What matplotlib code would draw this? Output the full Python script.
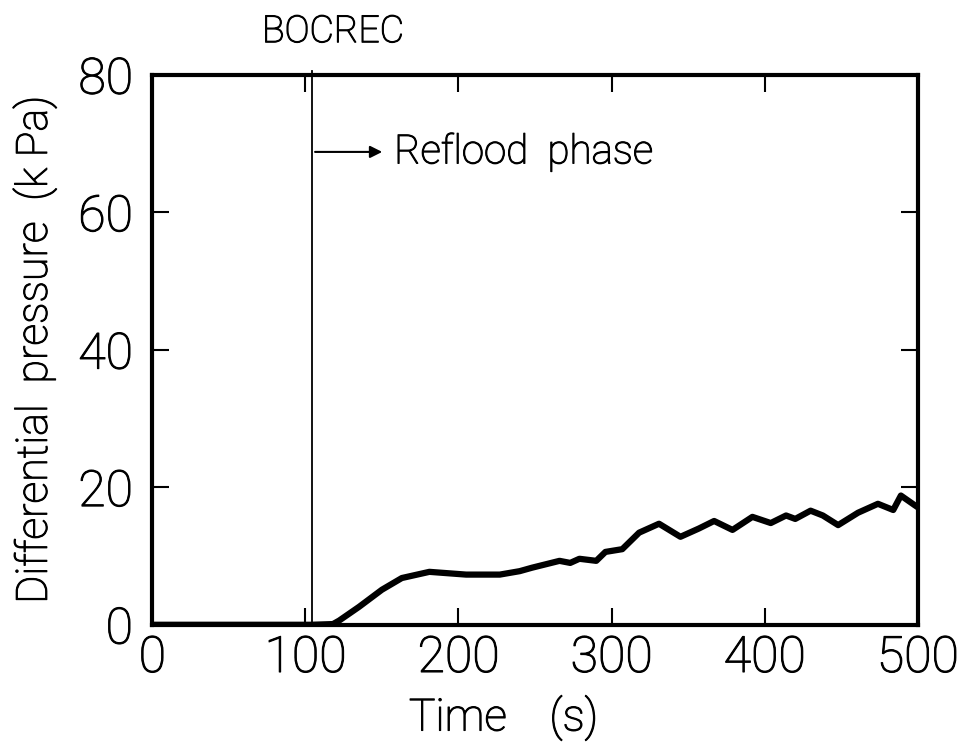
import matplotlib
matplotlib.use('Agg')
import matplotlib.pyplot as plt
import matplotlib.patheffects as pe

# time (s) and differential pressure (kPa)
t = [0, 50, 104, 118, 122, 135, 150, 163, 181, 205, 227, 240, 248, 266, 273, 279,
     290, 296, 307, 318, 331, 345, 357, 367, 379, 392, 404, 414, 420, 430, 438,
     448, 461, 474, 484, 489, 498, 500]
dp = [0, 0, 0, 0.1, 0.6, 2.6, 5.1, 6.8, 7.7, 7.3, 7.3, 7.8, 8.3, 9.3, 9.0, 9.6,
      9.3, 10.6, 11.0, 13.4, 14.7, 12.8, 14.0, 15.1, 13.8, 15.7, 14.8, 15.9, 15.4,
      16.6, 15.9, 14.5, 16.3, 17.6, 16.7, 18.8, 17.4, 17.1]

bocrec = 104.5
xticks = [0, 100, 200, 300, 400, 500]
yticks = [0, 20, 40, 60, 80]

plt.rcParams['font.family'] = ['Roboto', 'DejaVu Sans']
plt.rcParams['font.weight'] = 'light'
plt.rcParams['axes.labelweight'] = 'light'
fig = plt.figure(figsize=(9.64, 7.42), dpi=100)
ax = fig.add_axes([0.158, 0.158, 0.794, 0.741])

ax.plot(t, dp, color='black', lw=4.5, solid_capstyle='round', solid_joinstyle='round')
ax.plot([bocrec, bocrec], [0, 80.6], color='black', lw=1.3, clip_on=False)

ax.set_xlim(0, 500)
ax.set_ylim(0, 80)
ax.set_xticks(xticks)
ax.set_yticks(yticks)
ax.tick_params(direction='in', length=12, width=1.5, top=True, right=True,
               labelsize=36)
ax.tick_params(axis='x', pad=7)
ax.tick_params(axis='y', pad=14)
for s in ax.spines.values():
    s.set_linewidth(3)

ax.set_xlabel('Time    (s)', fontsize=32)
ax.xaxis.set_label_coords(0.459, -0.128)
ax.set_ylabel('Differential  pressure  (k Pa)', fontsize=31)
ax.yaxis.set_label_coords(-0.125, 0.5)

ax.text(118, 83.6, 'BOCREC', fontsize=27, ha='center', va='bottom')
ax.annotate('', xy=(152, 68.8), xytext=(bocrec, 68.8),
            arrowprops=dict(arrowstyle='-|>', color='black', lw=1.5, mutation_scale=18))
ax.text(158, 68.8, 'Reflood  phase', fontsize=29, ha='left', va='center')

# thicken the light strokes a little
thick = [pe.withStroke(linewidth=0.8, foreground='black')]
for txt in ax.get_xticklabels() + ax.get_yticklabels() + ax.texts + \
        [ax.xaxis.label, ax.yaxis.label]:
    txt.set_path_effects(thick)

fig.savefig('out.png', dpi=100)
